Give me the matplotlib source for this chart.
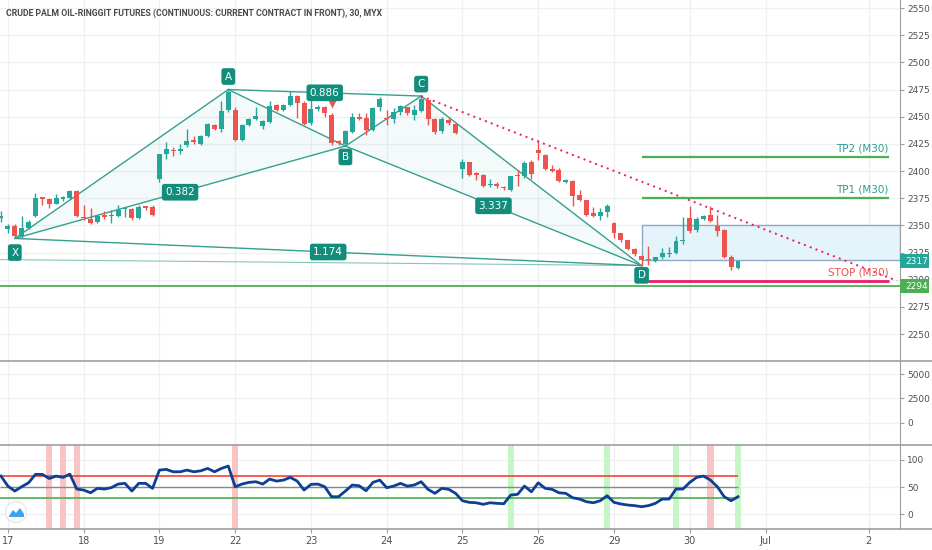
import matplotlib
matplotlib.use('Agg')
import matplotlib.pyplot as plt
from matplotlib import font_manager
from matplotlib.patches import Rectangle, Polygon, Circle
from matplotlib.lines import Line2D
from matplotlib.transforms import blended_transform_factory
import numpy as np

# ---------------- data ----------------
title = "CRUDE PALM OIL-RINGGIT FUTURES (CONTINUOUS: CURRENT CONTRACT IN FRONT), 30, MYX"

opens = [2357, 2347, 2349, 2340, 2348, 2359, 2376, 2374, 2370, 2374, 2375, 2382, 2358, 2356, 2353, 2360,
         2359, 2359, 2365, 2365, 2357, 2368, 2367, 2393, 2416, 2419, 2418, 2424, 2429, 2425, 2432, 2442,
         2439, 2456, 2456, 2429, 2442, 2448, 2441, 2445, 2461, 2456, 2461, 2469, 2463, 2444, 2457, 2459,
         2452, 2428, 2425, 2436, 2450, 2449, 2438, 2459, 2449, 2448, 2454, 2459, 2452, 2455, 2465, 2448,
         2437, 2447, 2443, 2402, 2408, 2398, 2396, 2387, 2388, 2385, 2383, 2396, 2395, 2408, 2419, 2415,
         2402, 2401, 2390, 2391, 2378, 2373, 2361, 2359, 2362, 2352, 2343, 2337, 2328, 2322, 2319, 2317,
         2321, 2324, 2325, 2336, 2357, 2346, 2356, 2360, 2349, 2346, 2321, 2311]
highs = [2363, 2351, 2351, 2359, 2355, 2380, 2376, 2375, 2379, 2377, 2383, 2383, 2369, 2366, 2360, 2363,
         2364, 2369, 2367, 2366, 2369, 2368, 2369, 2416, 2427, 2422, 2425, 2439, 2432, 2433, 2444, 2443,
         2464, 2475, 2459, 2443, 2449, 2459, 2447, 2464, 2462, 2462, 2474, 2470, 2464, 2465, 2461, 2460,
         2453, 2429, 2438, 2453, 2453, 2453, 2459, 2468, 2456, 2458, 2461, 2459, 2461, 2469, 2465, 2449,
         2450, 2450, 2444, 2411, 2408, 2399, 2397, 2393, 2390, 2386, 2395, 2401, 2409, 2410, 2429, 2416,
         2406, 2403, 2393, 2392, 2383, 2373, 2367, 2366, 2370, 2353, 2343, 2337, 2329, 2323, 2331, 2321,
         2329, 2330, 2340, 2358, 2368, 2358, 2360, 2368, 2360, 2347, 2323, 2318]
lows = [2353, 2343, 2338, 2338, 2347, 2358, 2369, 2366, 2370, 2372, 2374, 2358, 2355, 2351, 2352, 2356,
        2352, 2358, 2358, 2355, 2356, 2364, 2359, 2390, 2411, 2414, 2416, 2422, 2425, 2424, 2431, 2438,
        2436, 2454, 2428, 2428, 2441, 2447, 2439, 2444, 2455, 2455, 2460, 2449, 2442, 2442, 2455, 2450,
        2424, 2424, 2424, 2435, 2447, 2433, 2437, 2455, 2442, 2444, 2452, 2452, 2447, 2454, 2442, 2434,
        2435, 2442, 2434, 2394, 2395, 2392, 2385, 2385, 2384, 2383, 2382, 2386, 2394, 2393, 2410, 2401,
        2399, 2390, 2389, 2368, 2372, 2359, 2358, 2355, 2358, 2338, 2335, 2327, 2322, 2313, 2314, 2316,
        2319, 2321, 2324, 2333, 2343, 2344, 2355, 2353, 2340, 2320, 2309, 2310]
closes = [2359, 2349, 2340, 2348, 2353, 2375, 2374, 2370, 2375, 2376, 2382, 2359, 2357, 2352, 2359, 2358,
          2360, 2364, 2366, 2357, 2367, 2366, 2360, 2416, 2420, 2418, 2420, 2428, 2427, 2432, 2443, 2439,
          2455, 2473, 2429, 2442, 2448, 2451, 2446, 2460, 2456, 2461, 2469, 2463, 2443, 2457, 2459, 2453,
          2426, 2426, 2437, 2450, 2448, 2438, 2458, 2466, 2448, 2454, 2460, 2453, 2456, 2466, 2448, 2436,
          2448, 2444, 2435, 2408, 2396, 2396, 2386, 2388, 2386, 2384, 2395, 2395, 2407, 2397, 2417, 2402,
          2400, 2391, 2392, 2377, 2373, 2360, 2359, 2362, 2368, 2343, 2337, 2328, 2324, 2318, 2318, 2321,
          2325, 2325, 2336, 2337, 2345, 2356, 2359, 2354, 2345, 2321, 2312, 2317]

osc = [70.4, 52, 42.8, 50.8, 58, 73.5, 73.5, 66, 70.4, 68, 74, 46.5, 44.7, 39.7, 47.8, 46.5,
       49, 55.7, 57, 42.8, 57, 57, 47.8, 81.4, 82.7, 78.3, 78.3, 81.4, 78.3, 80.1, 84.5, 78.3,
       84.5, 88.8, 50.8, 55.7, 58.8, 60, 55.7, 64.9, 61.2, 63, 68, 61.2, 44.7, 55.1, 55.7, 50.8,
       32.4, 32.4, 42.8, 53.9, 52.6, 43.4, 58.8, 63, 49, 52, 57, 52, 53.9, 60, 46, 38.6,
       47.8, 46, 38.6, 25, 22, 21.3, 18.4, 21.3, 20.2, 19.5, 35.5, 36.8, 52, 41.5, 58, 47.8,
       46, 39.7, 38.6, 30.5, 28.1, 23.2, 21.3, 25, 34.2, 22, 19, 17.1, 16, 14, 16, 20.2,
       28.1, 28.1, 46.5, 46.5, 58.8, 68, 70.4, 63, 50.8, 32.4, 25, 32.4]

sell_bars = [7, 9, 11, 34, 103]
buy_bars = [74, 88, 98, 107]
marker_bar, marker_price = 48, 2462

pattern_names = ['X', 'A', 'B', 'C', 'D']
pattern_bars = [2, 33, 50, 61, 93]
pattern_prices = [2338, 2475, 2423, 2469, 2313]
ratio_labels = {('X', 'B'): '0.382', ('A', 'C'): '0.886', ('B', 'D'): '3.337', ('X', 'D'): '1.174'}

tp2, tp1, stop_lvl = 2413, 2375, 2299
box_top, box_bottom = 2350, 2318
support = 2294
last_price = 2317
trend_start = (61, 2469)
trend_end = (130.1, 2299)

day_bars = [1, 12, 23, 34, 45, 56, 67, 78, 89, 100, 111, 126]
day_labels = ['17', '18', '19', '22', '23', '24', '25', '26', '29', '30', 'Jul', '2']

price_ticks = list(range(2250, 2551, 25))
vol_ticks = [0, 2500, 5000]
osc_ticks = [0, 50, 100]

# ---------------- figure ----------------
W, H = 932, 550
fig = plt.figure(figsize=(W / 100, H / 100), dpi=100)
fig.patch.set_facecolor('white')
plt.rcParams['font.family'] = ['DejaVu Sans']

installed = {f.name for f in font_manager.fontManager.ttflist}
if 'Liberation Sans Narrow' in installed:
    title_font, title_size = ['Liberation Sans Narrow'], 7.6
else:
    title_font, title_size = ['Roboto', 'DejaVu Sans'], 6.3

def fx(px):
    return px / W

def fy(py):
    return 1 - py / H

ax_p = fig.add_axes([0, fy(361), fx(900), 361 / H])
ax_v = fig.add_axes([0, fy(445), fx(900), 84 / H])
ax_o = fig.add_axes([0, fy(529), fx(900), 84 / H])

XMIN, XMAX = -0.145, 130.52
GREEN, RED = '#26a69a', '#ef5350'
GRID = '#eef0f4'
AXC = '#9e9e9e'
TXT = '#4f4f4f'

for ax in (ax_p, ax_v, ax_o):
    ax.set_xlim(XMIN, XMAX)
    ax.set_facecolor('white')
    for s in ('top', 'left', 'bottom'):
        ax.spines[s].set_visible(False)
    ax.spines['right'].set_color(AXC)
    ax.yaxis.tick_right()
    ax.tick_params(axis='y', length=3, width=0.8, colors=AXC, labelcolor=TXT, labelsize=6.5, pad=2)
    ax.set_xticks(day_bars)
    ax.grid(True, color=GRID, lw=1)
    ax.set_axisbelow(True)

ax_p.tick_params(axis='x', length=0, labelbottom=False)
ax_v.tick_params(axis='x', length=0, labelbottom=False)
ax_o.set_xticklabels(day_labels)
ax_o.tick_params(axis='x', length=3, colors=AXC, labelcolor=TXT, labelsize=7, pad=2)

# ---------------- price pane ----------------
ax_p.set_ylim(2225.2, 2557.4)
ax_p.set_yticks(price_ticks)

idx = np.arange(len(opens))
o = np.array(opens, float); c = np.array(closes, float)
hi = np.array(highs, float); lo = np.array(lows, float)
cols = [GREEN if cc >= oo else RED for oo, cc in zip(o, c)]

# harmonic pattern
P = {n: (b, p) for n, b, p in zip(pattern_names, pattern_bars, pattern_prices)}
for tri in (('X', 'A', 'B'), ('B', 'C', 'D')):
    pts = [P[t] for t in tri]
    ax_p.add_patch(Polygon(pts, closed=True, fc='#26a69a', alpha=0.05, ec='none', zorder=1))
PL = '#35a08d'
for a, b in [('X', 'A'), ('A', 'B'), ('B', 'C'), ('C', 'D'), ('X', 'B'), ('A', 'C'), ('B', 'D'), ('X', 'D')]:
    ax_p.plot([P[a][0], P[b][0]], [P[a][1], P[b][1]], color=PL, lw=1, zorder=2)
ax_p.plot([XMIN, P['D'][0]], [2318.5, P['D'][1]], color=PL, lw=0.8, alpha=0.6, zorder=2)

# blue box
ax_p.add_patch(Rectangle((pattern_bars[4], box_bottom), XMAX - pattern_bars[4], box_top - box_bottom,
                         fc='#e3f4fb', ec='#8ea9c6', lw=1, zorder=1.5))

# candles
ax_p.vlines(idx, lo, hi, colors=cols, lw=1, zorder=3)
body_b = np.minimum(o, c)
body_h = np.maximum(np.abs(c - o), 0.8)
ax_p.bar(idx, body_h, bottom=body_b, width=0.72, color=cols, zorder=4, linewidth=0)

# signal marker
ax_p.plot(marker_bar, marker_price, marker='v', color=RED, ms=6, mec='none', zorder=5)

# trend dotted
ax_p.plot([trend_start[0], trend_end[0]], [trend_start[1], trend_end[1]], color='#e91e63',
          lw=1.4, ls=(0, (1, 2.2)), zorder=5)

# levels
LX1 = 128.9
ax_p.hlines([tp2, tp1], pattern_bars[4], LX1, colors='#4caf50', lw=1.6, zorder=5)
ax_p.hlines(stop_lvl, pattern_bars[4], LX1, colors='#e91e63', lw=2, zorder=5)
ax_p.axhline(support, color='#4caf50', lw=1.3, zorder=5)
ax_p.text(LX1, tp2 + 8, 'TP2 (M30)', ha='right', va='center', color='#2a9d8f', fontsize=7.5, zorder=6)
ax_p.text(LX1, tp1 + 8, 'TP1 (M30)', ha='right', va='center', color='#2a9d8f', fontsize=7.5, zorder=6)
ax_p.text(LX1, stop_lvl + 8, 'STOP (M30)', ha='right', va='center', color='#f0504a', fontsize=7.5, zorder=6)

# labels
LB = '#138d7b'
def lab(x, y, s, fs=7.5):
    ax_p.text(x, y, s, ha='center', va='center', color='white', fontsize=fs, zorder=8,
              bbox=dict(boxstyle='round,pad=0.32,rounding_size=0.25', fc=LB, ec='none'))

offs = {'X': -13, 'A': 12, 'B': -10, 'C': 11, 'D': -9}
for n in pattern_names:
    lab(P[n][0], P[n][1] + offs[n], n)
for (a, b), s in ratio_labels.items():
    lab((P[a][0] + P[b][0]) / 2, (P[a][1] + P[b][1]) / 2, s)

# price boxes on axis
bt = blended_transform_factory(fig.transFigure, ax_p.transData)
for val, col in ((last_price, '#26a69a'), (support, '#4caf50')):
    ax_p.add_patch(Rectangle((fx(900), val - 6.5), fx(29), 13, transform=bt, fc=col, ec='none',
                             clip_on=False, zorder=10))
    ax_p.text(fx(905), val, str(val), transform=bt, color='white', fontsize=6.5, va='center',
              ha='left', clip_on=False, zorder=11)

# ---------------- volume pane ----------------
ax_v.set_ylim(-2323, 6385)
ax_v.set_yticks(vol_ticks)

# ---------------- oscillator pane ----------------
ax_o.set_ylim(-27, 127.6)
ax_o.set_yticks(osc_ticks)
for b in sell_bars:
    ax_o.axvspan(b - 0.46, b + 0.46, color='#f9c4c4', lw=0, zorder=1)
for b in buy_bars:
    ax_o.axvspan(b - 0.46, b + 0.46, color='#c6f5c6', lw=0, zorder=1)
LAST = len(osc) - 1
ax_o.hlines(70, XMIN, LAST, colors='#f44336', lw=1.2, zorder=2)
ax_o.hlines(50, XMIN, LAST, colors='#888888', lw=1.0, zorder=2)
ax_o.hlines(30, XMIN, LAST, colors='#4caf50', lw=1.2, zorder=2)
ax_o.plot(idx, osc, color='#0d3f94', lw=2, zorder=3)

# separators
for yy in (361, 445, 529):
    fig.add_artist(Line2D([0, 1], [fy(yy), fy(yy)], transform=fig.transFigure, color=AXC, lw=1.2))

# title
fig.text(fx(6), fy(13), title, fontsize=title_size, fontweight='bold', family=title_font,
         color='#4a4a4a', va='center', ha='left')

# logo
tr = fig.dpi_scale_trans
cx, cy = 16 / 100, (H - 512) / 100
fig.add_artist(Circle((cx, cy), 0.105, transform=tr, fc='white', ec='#e3e3e3', lw=0.8, zorder=20))
pts = [(9, 516), (13, 510), (16, 513), (20, 508), (24, 514), (24, 517), (9, 517)]
fig.add_artist(Polygon([(px / 100, (H - py) / 100) for px, py in pts], closed=True, transform=tr,
                       fc='#3da2ef', ec='none', zorder=21))

fig.savefig('out.png', dpi=100)
